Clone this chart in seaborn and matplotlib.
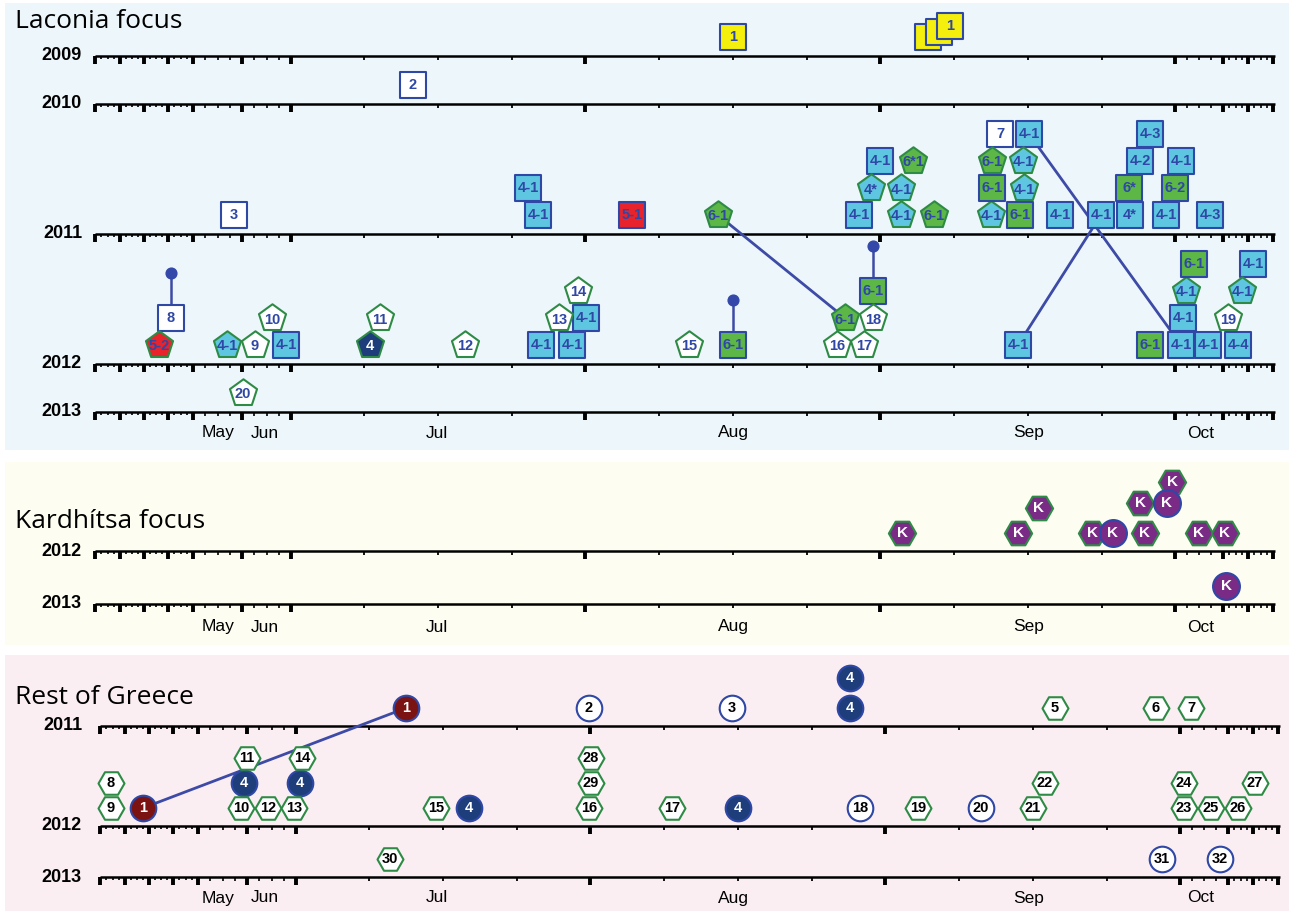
import numpy as np
import pandas as pd
import seaborn as sns
import matplotlib.pyplot as plt

sns.set_theme(style="white")
plt.rcParams['font.family'] = ['Liberation Sans', 'DejaVu Sans']

W, H = 1289, 911

# ============================================================
# DATA
# ============================================================
# baselines of each year row (timeline units, same for every panel)
laconia_years = [2009, 2010, 2011, 2012, 2013]
laconia_year_y = [56, 104, 234, 364, 412]
kard_years = [2012, 2013]
kard_year_y = [551, 604]
rest_years = [2011, 2012, 2013]
rest_year_y = [726, 826, 877]

month_names = ["May", "Jun", "Jul", "Aug", "Sep", "Oct"]
month_pos = [218, 265, 437, 733, 1029, 1201]

major_ticks = [95, 120, 144, 168, 193, 242, 291, 585, 880, 1175, 1223, 1248, 1273]
week_ticks = [364, 438, 512, 659, 733, 807, 954, 1028, 1102]

# (position, year row, stack level, case type, group, label)
# S = square, P = pentagon
laconia_cases = [
    (733, 2009, 0, "S", "yellow", "1"),
    (928, 2009, 0, "S", "yellow", ""),
    (939, 2009, 0.2, "S", "yellow", ""),
    (950, 2009, 0.42, "S", "yellow", "1"),
    (413, 2010, 0, "S", "white", "2"),
    (234, 2011, 0, "S", "white", "3"),
    (538, 2011, 0, "S", "cyan", "4-1"),
    (632, 2011, 0, "S", "red", "5-1"),
    (718, 2011, 0, "P", "green", "6-1"),
    (859, 2011, 0, "S", "cyan", "4-1"),
    (901, 2011, 0, "P", "cyan", "4-1"),
    (934, 2011, 0, "P", "green", "6-1"),
    (991, 2011, 0, "P", "cyan", "4-1"),
    (1020, 2011, 0, "S", "green", "6-1"),
    (1060, 2011, 0, "S", "cyan", "4-1"),
    (1101, 2011, 0, "S", "cyan", "4-1"),
    (1130, 2011, 0, "S", "cyan", "4*"),
    (1166, 2011, 0, "S", "cyan", "4-1"),
    (1210, 2011, 0, "S", "cyan", "4-3"),
    (528, 2011, 1, "S", "cyan", "4-1"),
    (871, 2011, 1, "P", "cyan", "4*"),
    (901, 2011, 1, "P", "cyan", "4-1"),
    (992, 2011, 1, "S", "green", "6-1"),
    (1024, 2011, 1, "P", "cyan", "4-1"),
    (1129, 2011, 1, "S", "green", "6*"),
    (1175, 2011, 1, "S", "green", "6-2"),
    (880, 2011, 2, "S", "cyan", "4-1"),
    (913, 2011, 2, "P", "green", "6*1"),
    (992, 2011, 2, "P", "green", "6-1"),
    (1023, 2011, 2, "P", "cyan", "4-1"),
    (1140, 2011, 2, "S", "cyan", "4-2"),
    (1181, 2011, 2, "S", "cyan", "4-1"),
    (1000, 2011, 3, "S", "white", "7"),
    (1029, 2011, 3, "S", "cyan", "4-1"),
    (1150, 2011, 3, "S", "cyan", "4-3"),
    (159, 2012, 0, "P", "red", "5-2"),
    (227, 2012, 0, "P", "cyan", "4-1"),
    (255, 2012, 0, "P", "white", "9"),
    (286, 2012, 0, "S", "cyan", "4-1"),
    (370, 2012, 0, "P", "navy", "4"),
    (465, 2012, 0, "P", "white", "12"),
    (541, 2012, 0, "S", "cyan", "4-1"),
    (572, 2012, 0, "S", "cyan", "4-1"),
    (689, 2012, 0, "P", "white", "15"),
    (733, 2012, 0, "S", "green", "6-1"),
    (837, 2012, 0, "P", "white", "16"),
    (864, 2012, 0, "P", "white", "17"),
    (1018, 2012, 0, "S", "cyan", "4-1"),
    (1150, 2012, 0, "S", "green", "6-1"),
    (1181, 2012, 0, "S", "cyan", "4-1"),
    (1208, 2012, 0, "S", "cyan", "4-1"),
    (1238, 2012, 0, "S", "cyan", "4-4"),
    (171, 2012, 1, "S", "white", "8"),
    (272, 2012, 1, "P", "white", "10"),
    (380, 2012, 1, "P", "white", "11"),
    (559, 2012, 1, "P", "white", "13"),
    (586, 2012, 1, "S", "cyan", "4-1"),
    (845, 2012, 1, "P", "green", "6-1"),
    (873, 2012, 1, "P", "white", "18"),
    (1183, 2012, 1, "S", "cyan", "4-1"),
    (1228, 2012, 1, "P", "white", "19"),
    (578, 2012, 2, "P", "white", "14"),
    (873, 2012, 2, "S", "green", "6-1"),
    (1186, 2012, 2, "P", "cyan", "4-1"),
    (1242, 2012, 2, "P", "cyan", "4-1"),
    (1194, 2012, 3, "S", "green", "6-1"),
    (1253, 2012, 3, "S", "cyan", "4-1"),
    (243, 2013, 0, "P", "white", "20"),
]
# stems: (position, year row, stack of case, stack of dot)
laconia_stems = [(171, 2012, 1, 2.67), (733, 2012, 0, 1.67), (873, 2012, 2, 3.67)]
# links between cases: ((pos, year, stack), (pos, year, stack))
laconia_links = [
    ((718, 2011, 0), (845, 2012, 1)),
    ((1029, 2011, 3), (1181, 2012, 0)),
    ((1018, 2012, 0), (1101, 2011, 0)),
]

# H = hexagon, O = circle
kard_cases = [
    (902, 2012, 0, "H", "purple", "K"),
    (1018, 2012, 0, "H", "purple", "K"),
    (1039, 2012, 0.93, "H", "purple", "K"),
    (1092, 2012, 0, "H", "purple", "K"),
    (1113, 2012, 0, "O", "purple", "K"),
    (1145, 2012, 0, "H", "purple", "K"),
    (1140, 2012, 1.1, "H", "purple", "K"),
    (1167, 2012, 1.1, "O", "purple", "K"),
    (1172, 2012, 1.9, "H", "purple", "K"),
    (1199, 2012, 0, "H", "purple", "K"),
    (1225, 2012, 0, "H", "purple", "K"),
    (1226, 2013, 0, "O", "purple", "K"),
]

rest_cases = [
    (406, 2011, 0, "O", "darkred", "1"),
    (589, 2011, 0, "O", "white", "2"),
    (732, 2011, 0, "O", "white", "3"),
    (850, 2011, 0, "O", "navy", "4"),
    (850, 2011, 1.2, "O", "navy", "4"),
    (1055, 2011, 0, "H", "white", "5"),
    (1156, 2011, 0, "H", "white", "6"),
    (1191, 2011, 0, "H", "white", "7"),
    (111, 2012, 0, "H", "white", "9"),
    (143, 2012, 0, "O", "darkred", "1"),
    (241, 2012, 0, "H", "white", "10"),
    (268, 2012, 0, "H", "white", "12"),
    (294, 2012, 0, "H", "white", "13"),
    (436, 2012, 0, "H", "white", "15"),
    (469, 2012, 0, "O", "navy", "4"),
    (589, 2012, 0, "H", "white", "16"),
    (672, 2012, 0, "H", "white", "17"),
    (738, 2012, 0, "O", "navy", "4"),
    (860, 2012, 0, "O", "white", "18"),
    (918, 2012, 0, "H", "white", "19"),
    (981, 2012, 0, "O", "white", "20"),
    (1033, 2012, 0, "H", "white", "21"),
    (1184, 2012, 0, "H", "white", "23"),
    (1211, 2012, 0, "H", "white", "25"),
    (1238, 2012, 0, "H", "white", "26"),
    (111, 2012, 1, "H", "white", "8"),
    (244, 2012, 1, "O", "navy", "4"),
    (300, 2012, 1, "O", "navy", "4"),
    (591, 2012, 1, "H", "white", "29"),
    (1045, 2012, 1, "H", "white", "22"),
    (1184, 2012, 1, "H", "white", "24"),
    (1255, 2012, 1, "H", "white", "27"),
    (247, 2012, 2, "H", "white", "11"),
    (302, 2012, 2, "H", "white", "14"),
    (591, 2012, 2, "H", "white", "28"),
    (390, 2013, 0, "H", "white", "30"),
    (1162, 2013, 0, "O", "white", "31"),
    (1220, 2013, 0, "O", "white", "32"),
]
rest_links = [((143, 2012, 0), (406, 2011, 0))]

# ============================================================
# STYLE
# ============================================================
BLUE = "#2F47A5"
GREEN_EDGE = "#2E8B45"
LINE = "#3D4BA6"
marker_map = {"S": "s", "P": "p", "H": "H", "O": "o"}
size_map = {"S": 350, "P": 420, "H": 350, "O": 340}
face_map = {"cyan": "#5EC6E0", "green": "#5DB746", "red": "#E8232B",
            "white": "white", "yellow": "#F4EF0C", "navy": "#1E3D7B",
            "purple": "#7A2B85", "darkred": "#7C1313"}
label_size = {"laconia": 10.5, "kard": 11, "rest": 10.5}


def edge_color(kind, group):
    if kind in ("S", "O"):
        return BLUE
    return GREEN_EDGE


def text_color(kind, group, panel):
    if group in ("navy", "purple", "darkred"):
        return "white"
    if panel == "rest":
        return "black"
    return BLUE


def to_frame(cases, year_pos, step):
    df = pd.DataFrame(cases, columns=["x", "year", "stack", "kind", "group", "label"])
    base = df["year"].map(year_pos)
    df["y"] = base - 19 - df["stack"] * step
    return df


def draw_axis(ax, years, year_y, shift=0):
    for yr, y in zip(years, year_y):
        ax.hlines(y, 95 + shift, 1275 + shift, color="black", lw=1.8, zorder=1)
        ax.vlines(np.array(major_ticks) + shift, y, y + 8, color="black", lw=2.8, zorder=1)
        ax.vlines(np.array(week_ticks) + shift, y, y + 4, color="black", lw=1.3, zorder=1)
        for a, b in zip(major_ticks[:-1], major_ticks[1:]):
            if b - a > 60:
                continue
            small = np.linspace(a, b, 5)[1:-1] + shift
            ln = 3 if b - a < 30 and a < 200 else 4
            ax.vlines(small, y, y + ln, color="black", lw=1.2, zorder=1)
        ax.text(82, y, str(yr), ha="right", va="center", fontsize=13,
                fontweight="bold", color="black")


def draw_cases(ax, df, panel):
    scale = 1.1 if panel == "kard" else 1.0
    for (kind, group), sub in df.groupby(["kind", "group"], sort=False):
        sns.scatterplot(data=sub, x="x", y="y", marker=marker_map[kind],
                        s=size_map[kind] * scale,
                        color=face_map[group], edgecolor=edge_color(kind, group),
                        linewidth=1.5, legend=False, ax=ax, zorder=3)
    for _, r in df.iterrows():
        if r["label"] == "":
            continue
        dy = 1.5 if r["kind"] == "P" else 0
        ax.text(r["x"], r["y"] + dy, r["label"], ha="center", va="center",
                fontsize=label_size[panel], fontweight="bold",
                color=text_color(r["kind"], r["group"], panel), zorder=4)
    ax.set(xlabel="", ylabel="")


def ypos(year_pos, year, stack, step):
    return year_pos[year] - 19 - stack * step


def setup(ax, bg, y0, y1):
    ax.set_facecolor(bg)
    ax.set_xlim(5, W)
    ax.set_ylim(y1, y0)
    ax.set_xticks([])
    ax.set_yticks([])
    for s in ax.spines.values():
        s.set_visible(False)


# ============================================================
# FIGURE
# ============================================================
fig = plt.figure(figsize=(W / 100, H / 100), dpi=100)
fig.patch.set_facecolor("white")

ax1 = fig.add_axes([5 / W, 1 - 450 / H, (W - 5) / W, 447 / H])
ax2 = fig.add_axes([5 / W, 1 - 645 / H, (W - 5) / W, 183 / H])
ax3 = fig.add_axes([5 / W, 0, (W - 5) / W, 256 / H])

title_font = ["Open Sans", "DejaVu Sans"]

# ---- Laconia
lac_pos = dict(zip(laconia_years, laconia_year_y))
draw_axis(ax1, laconia_years, laconia_year_y)
lac = to_frame(laconia_cases, lac_pos, 27)
for (x0, yr0, s0), (x1, yr1, s1) in laconia_links:
    ax1.plot([x0, x1], [ypos(lac_pos, yr0, s0, 27), ypos(lac_pos, yr1, s1, 27)],
             color=LINE, lw=2.0, zorder=2)
for x, yr, s0, s1 in laconia_stems:
    ya, yb = ypos(lac_pos, yr, s0, 27), ypos(lac_pos, yr, s1, 27)
    ax1.plot([x, x], [ya, yb], color=LINE, lw=1.8, zorder=2)
    ax1.scatter([x], [yb], s=60, color="#3348A8", zorder=2)
draw_cases(ax1, lac, "laconia")
for m, xm in zip(month_names, month_pos):
    ax1.text(xm, 433, m, ha="center", va="center", fontsize=12.5, color="black")
ax1.text(15, 22, "Laconia focus", ha="left", va="center", fontsize=19,
         family=title_font, color="black")
setup(ax1, "#EDF7FB", 3, 450)

# ---- Kardhitsa
kard_pos = dict(zip(kard_years, kard_year_y))
draw_axis(ax2, kard_years, kard_year_y)
kd = to_frame(kard_cases, kard_pos, 27)
kd["y"] = kd["y"] + 1
draw_cases(ax2, kd, "kard")
for m, xm in zip(month_names, month_pos):
    ax2.text(xm, 627, m, ha="center", va="center", fontsize=12.5, color="black")
ax2.text(15, 522, "Kardhítsa focus", ha="left", va="center", fontsize=19,
         family=title_font, color="black")
setup(ax2, "#FDFDF1", 462, 645)

# ---- Rest of Greece
rest_pos = dict(zip(rest_years, rest_year_y))
draw_axis(ax3, rest_years, rest_year_y, shift=5)
rg = to_frame(rest_cases, rest_pos, 25)
rg["y"] = rg["y"] + 1
for (x0, yr0, s0), (x1, yr1, s1) in rest_links:
    ax3.plot([x0, x1], [ypos(rest_pos, yr0, s0, 25) + 1, ypos(rest_pos, yr1, s1, 25) + 1],
             color=LINE, lw=2.0, zorder=2)
draw_cases(ax3, rg, "rest")
for m, xm in zip(month_names, month_pos):
    ax3.text(xm, 898, m, ha="center", va="center", fontsize=12.5, color="black")
ax3.text(15, 697, "Rest of Greece", ha="left", va="center", fontsize=19,
         family=title_font, color="black")
setup(ax3, "#FBEEF3", 655, 911)

fig.savefig("out.png", dpi=100)
